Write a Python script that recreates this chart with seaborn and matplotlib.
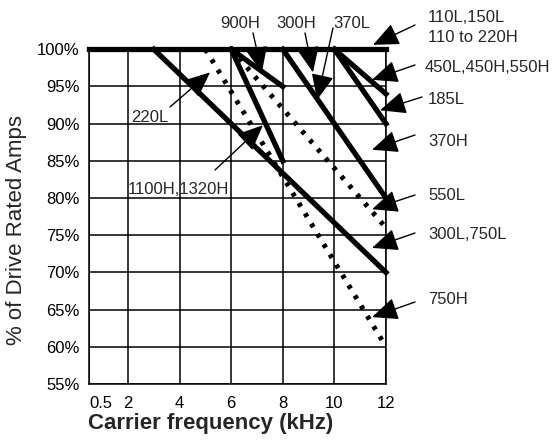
import matplotlib
matplotlib.use('Agg')
import matplotlib.pyplot as plt
import seaborn as sns
import pandas as pd

# Derating curves: carrier frequency (kHz) vs % of drive rated amps
freq_110L = [0.5, 12]
pct_110L = [100, 100]
freq_300L = [3, 12]
pct_300L = [100, 70]
freq_900H = [6, 8]
pct_900H = [100, 95]
freq_1100H = [6, 8]
pct_1100H = [100, 85]
freq_370L = [8, 12]
pct_370L = [100, 80]
freq_450L = [10, 12]
pct_450L = [100, 94]
freq_185L = [10, 12]
pct_185L = [100, 90]
freq_750H = [5, 12]
pct_750H = [100, 60]
freq_550L = [6, 12]
pct_550L = [100, 76]

solid_curves = [(freq_110L, pct_110L), (freq_300L, pct_300L), (freq_900H, pct_900H),
                (freq_1100H, pct_1100H), (freq_370L, pct_370L), (freq_450L, pct_450L),
                (freq_185L, pct_185L)]
dotted_curves = [(freq_750H, pct_750H), (freq_550L, pct_550L)]

x_ticks = [0.5, 2, 4, 6, 8, 10, 12]
y_ticks = [55, 60, 65, 70, 75, 80, 85, 90, 95, 100]

# label text, left edge (px), vertical centre (px from top)
labels = [('900H', 220, 23), ('300H', 276, 23), ('370L', 333, 23),
          ('110L,150L', 428, 18), ('110 to 220H', 428, 37),
          ('450L,450H,550H', 425, 68), ('185L', 428, 100), ('370H', 428, 142),
          ('550L', 428, 196), ('300L,750L', 428, 235), ('750H', 428, 300),
          ('220L', 131, 118), ('1100H,1320H', 128, 190)]
# arrow tip in data (kHz, %), tail in pixels from top-left
arrows = [((11.5, 100.6), (415, 25)), ((11.46, 95.9), (415, 65)),
          ((11.77, 91.8), (422, 97)), ((11.46, 86.5), (415, 135)),
          ((11.46, 78.5), (415, 195)), ((11.46, 73.3), (415, 233)),
          ((11.46, 64.0), (415, 302)), ((7.19, 96.9), (253, 33)),
          ((9.17, 96.9), (305, 33)), ((9.33, 93.2), (333, 28)),
          ((5.18, 96.9), (170, 107)), ((7.23, 89.8), (215, 170))]

sns.set_style('white')
plt.rcParams['font.family'] = ['Liberation Sans', 'DejaVu Sans']

W, H = 558, 441
fig = plt.figure(figsize=(W / 100, H / 100), dpi=100)
ax = fig.add_axes([89.3 / W, 1 - 384 / H, (386 - 89.3) / W, (384 - 49.3) / H])

for fx, py in solid_curves:
    sns.lineplot(x=fx, y=py, ax=ax, color='black', lw=3.8, clip_on=False,
                 solid_capstyle='projecting')
for fx, py in dotted_curves:
    d = pd.DataFrame({'f': fx, 'p': py})
    sns.lineplot(data=d, x='f', y='p', ax=ax, color='black', lw=3.6, clip_on=False,
                 linestyle=(0, (0.8, 1.6)))

ax.set_xlim(0.5, 12)
ax.set_ylim(55, 100)
ax.set_xticks(x_ticks)
ax.set_xticklabels([str(t) for t in x_ticks])
ax.set_yticks(y_ticks)
ax.set_yticklabels([f'{t}%' for t in y_ticks])
ax.tick_params(axis='both', length=0, labelsize=12, colors='black')
ax.tick_params(axis='x', pad=9)
ax.tick_params(axis='y', pad=7)
ax.get_xticklabels()[0].set_horizontalalignment('left')
ax.grid(True, color='black', lw=1.1)
for s in ax.spines.values():
    s.set_color('black')
    s.set_linewidth(1.1)

ax.set_xlabel('Carrier frequency (kHz)', fontsize=16, fontweight='bold')
ax.xaxis.set_label_coords(0.408, -0.118)
ax.xaxis.label.set_va('center')
ax.set_ylabel('% of Drive Rated Amps', fontsize=16)
ax.yaxis.set_label_coords(-0.244, 0.46)
ax.yaxis.label.set_va('center')

for txt, px, py in labels:
    fig.text(px / W, 1 - py / H, txt, fontsize=12, ha='left', va='center')

for tip, (tx, ty) in arrows:
    ax.annotate('', xy=tip, xycoords='data', xytext=(tx, H - ty),
                textcoords='figure pixels', annotation_clip=False,
                arrowprops=dict(arrowstyle='-|>,head_length=0.8,head_width=0.35',
                                mutation_scale=20, lw=1, color='black',
                                shrinkA=0, shrinkB=0))

fig.savefig('out.png', dpi=100)
